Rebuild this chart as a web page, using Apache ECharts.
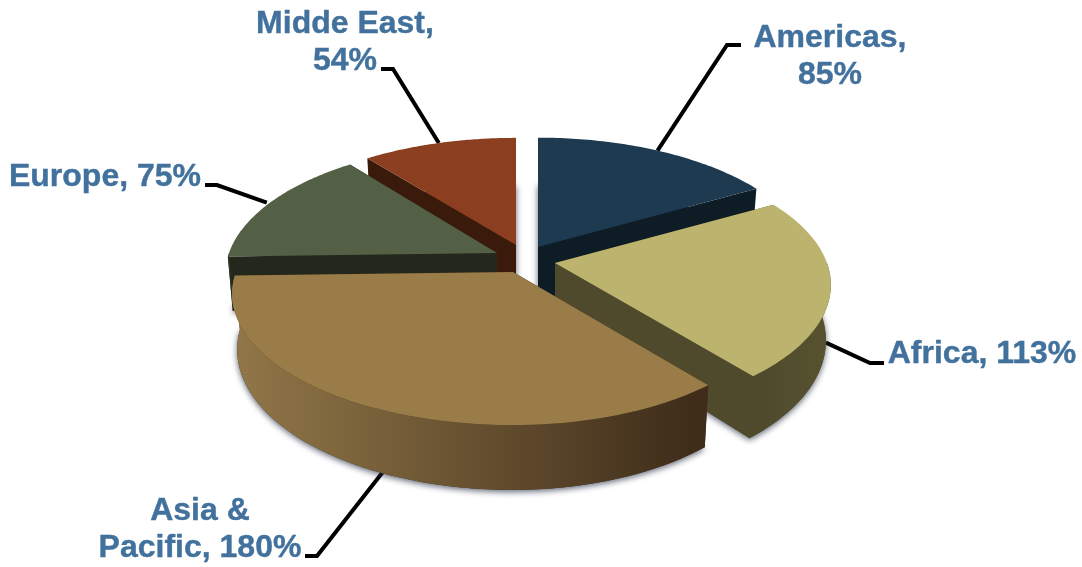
<!DOCTYPE html>
<html>
<head>
<meta charset="utf-8">
<style>html,body{margin:0;padding:0;background:#fff}#c{width:1082px;height:567px}</style>
<script src="https://cdn.jsdelivr.net/npm/echarts@6/dist/echarts.min.js"></script>
</head>
<body>
<div id="c"></div>
<script>
// ---- data ----
var categories = ['Americas', 'Africa', 'Asia &\nPacific', 'Europe', 'Midde East'];
var values = [85, 113, 180, 75, 54];
var separators = [',\n', ', ', ', ', ', ', ',\n'];

// ---- styles ----
var topColors = ['#1d3a50', '#bcb46e', '#9a7c48', '#546045', '#8b3f20'];
var wallColors = ['#0e1c26', '#4f4a2c', '#3f2d1a', '#23271c', '#3a1b0b'];
var rimStops = [
  ['#0e1c26', '#0e1c26'],
  ['#4d482b', '#57522f'],
  ['#917748', '#3f2d1a'],
  ['#2d3225', '#23271c'],
  ['#3a1b0b', '#3a1b0b']
];
var paintOrder = [4, 0, 3, 1, 2];

// ---- layout of the projected, exploded disc ----
var apexX = [538, 555, 513, 497, 516];
var apexY = [247, 263, 272, 253, 245];
var radiusLeft = [272, 272, 277, 268, 271];
var radiusRight = [272, 272, 268, 272, 272];
var squashes = [127.6, 127.6, 127.6, 127.6, 125];
var anchorRadius = 272;
var persp = 1 / 6, depth = 54, bottomTaper = 0.018;
var rimGradX = [[538, 757], [745, 830], [235, 690], [228, 400], [367, 516]];
var labelX = [830, 982, 200, 105, 345];
var labelY = [57, 354, 530, 177, 43];
var labelAnchor = [[741, 45, 727, 45], [884, 363, 870, 363], [305, 556, 317, 556], [205, 185, 217, 185], [381, 69, 393, 69]];
var labelColor = '#41719c';

var total = values.reduce(function (a, b) { return a + b; }, 0);
var angles = [], acc = 0;
values.forEach(function (v) {
  angles.push([acc / total * 2 * Math.PI, (acc + v) / total * 2 * Math.PI]);
  acc += v;
});

function project(i, a, r, lift) {
  var u = Math.sin(a) * r, v = -Math.cos(a) * r;
  var d = 1 - persp * v;
  var R = (u < 0 ? radiusLeft[i] : radiusRight[i]) * (1 - bottomTaper * lift);
  return [apexX[i] + R * u / d, apexY[i] + (squashes[i] * v + lift * depth) / d];
}
function anchor(i) {
  var a = (angles[i][0] + angles[i][1]) / 2;
  var u = Math.sin(a), v = -Math.cos(a), d = 1 - persp * v;
  var lift = v > -0.2 ? 1 : 0;
  return [apexX[i] + anchorRadius * (1 - bottomTaper * lift) * u / d, apexY[i] + (squashes[i] * v + lift * depth) / d];
}
function arc(i, a0, a1, lift) {
  var pts = [], n = 64;
  for (var k = 0; k <= n; k++) pts.push(project(i, a0 + (a1 - a0) * k / n, 1, lift));
  return pts;
}
function poly(points, fill, extra) {
  var style = { fill: fill };
  for (var key in extra || {}) style[key] = extra[key];
  return { type: 'polygon', shape: { points: points }, style: style, silent: true };
}

function renderSlice(params, api) {
  var i = api.value(0), a0 = angles[i][0], a1 = angles[i][1];
  var apexTop = project(i, 0, 0, 0), apexBot = project(i, 0, 0, 1);
  var topArc = arc(i, a0, a1, 0), botArc = arc(i, a0, a1, 1);
  var rim = new echarts.graphic.LinearGradient(rimGradX[i][0], 0, rimGradX[i][1], 0,
    [{ offset: 0, color: rimStops[i][0] }, { offset: 1, color: rimStops[i][1] }], true);
  var children = [
    poly([apexBot].concat(botArc), wallColors[i], {
      shadowBlur: 6, shadowColor: 'rgba(40,50,70,0.75)', shadowOffsetX: 0, shadowOffsetY: 2
    }),
    poly([apexTop, topArc[0], botArc[0], apexBot], wallColors[i]),
    poly([apexTop, topArc[topArc.length - 1], botArc[botArc.length - 1], apexBot], wallColors[i])
  ];
  // only the part of the outer wall that faces the viewer
  var f0 = Math.max(a0, Math.PI / 2), f1 = Math.min(a1, Math.PI * 1.5);
  if (f0 < f1) {
    var frontTop = arc(i, f0, f1, 0), frontBot = arc(i, f0, f1, 1);
    children.push(poly(frontTop.concat(frontBot.slice().reverse()), rim));
  }
  children.push(poly([apexTop].concat(topArc), topColors[i]));
  return { type: 'group', children: children };
}

function renderLabel(params, api) {
  var i = api.value(0), a = anchor(i), e = labelAnchor[i];
  return {
    type: 'group',
    children: [
      {
        type: 'polyline', silent: true,
        shape: { points: [[e[0], e[1]], [e[2], e[3]], a] },
        style: { stroke: '#000', lineWidth: 4, fill: null, lineJoin: 'miter' }
      },
      {
        type: 'text', silent: true,
        style: {
          x: labelX[i], y: labelY[i],
          text: categories[i] + separators[i] + values[i] + '%',
          fill: labelColor, stroke: labelColor, lineWidth: 0.4,
          align: 'center', verticalAlign: 'middle',
          font: 'bold 32px "Liberation Sans", Arial, sans-serif', lineHeight: 37
        }
      }
    ]
  };
}

var chart = echarts.init(document.getElementById('c'), null, { renderer: 'canvas' });
chart.setOption({
  animation: false,
  backgroundColor: '#ffffff',
  series: [
    {
      type: 'custom', coordinateSystem: 'none', silent: true, z: 1,
      data: values.map(function (v, i) { return [i, v]; }),
      encode: { value: 1 },
      renderItem: renderLabel
    },
    {
      type: 'custom', coordinateSystem: 'none', silent: true, z: 2,
      data: paintOrder.map(function (i) { return [i, values[i]]; }),
      encode: { value: 1 },
      renderItem: renderSlice
    }
  ]
});
</script>
</body>
</html>
